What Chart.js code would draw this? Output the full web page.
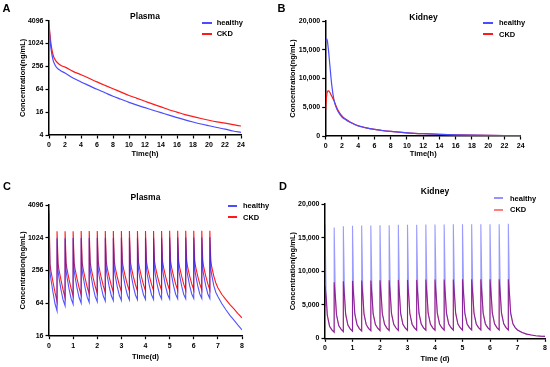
<!DOCTYPE html>
<html><head><meta charset="utf-8">
<script src="https://cdn.jsdelivr.net/npm/chart.js@4.4.1/dist/chart.umd.min.js"></script>
<style>
html,body{margin:0;padding:0;background:#fff;width:550px;height:367px;overflow:hidden;position:relative;font-family:"Liberation Sans",Arial,sans-serif;}
canvas{position:absolute;}
.t{position:absolute;white-space:nowrap;font-weight:bold;color:#000;}
.ln{position:absolute;}
</style></head><body>
<canvas id="cA" width="275" height="183" style="left:0;top:0"></canvas>
<canvas id="cB" width="275" height="183" style="left:275px;top:0"></canvas>
<canvas id="cC" width="275" height="184" style="left:0;top:183px"></canvas>
<canvas id="cD" width="275" height="184" style="left:275px;top:183px"></canvas>
<script>
// ---------- Panel A: single dose, plasma (h) ----------
const aTime    = [0,0.1,0.25,0.5,0.75,1,1.5,2,3,4,5,6,7,8,9,10,11,12,13,14,15,16,17,18,19,20,21,22,23,24];
const aHealthy = [3000,1600,750,380,280,235,195,172,127,100,80,64,52,42,35,29,24.5,21,18,15.5,13.3,11.5,10,8.8,7.8,7,6.3,5.7,5.1,4.7];
const aCKD     = [3500,2000,1000,520,390,330,270,245,190,155,125,100,81,66,54,44,37,31,26,22,18.5,16,13.8,12.2,10.9,9.8,8.9,8.2,7.5,6.9];
const aYTicks  = [4,16,64,256,1024,4096];

// ---------- Panel B: single dose, kidney (h) ----------
const bTime    = [0,0.1,0.2,0.35,0.5,0.75,1,1.25,1.5,2,2.5,3,4,5,6,7,8,10,12,14,16,18,20,22,24];
const bHealthy = [16500,16900,16600,14800,12500,8800,6400,5100,4300,3300,2800,2400,1750,1400,1150,950,800,560,400,290,210,155,115,85,65];
const bCKD     = [4700,6800,7700,7850,7600,6900,6200,5300,4500,3500,2900,2450,1780,1420,1160,960,800,560,400,290,210,155,115,85,65];
const bYTicks  = [0,5000,10000,15000,20000];

// ---------- Panels C & D: multiple dose (d) ----------
const mdTime = [
 0,0,0.0417,0.0833,0.1667,0.25,
 0.3333,0.3333,0.375,0.4167,0.5,0.5833,
 0.6667,0.6667,0.7083,0.75,0.8333,0.9167,
 1,1,1.0417,1.0833,1.1667,1.25,
 1.3333,1.3333,1.375,1.4167,1.5,1.5833,
 1.6667,1.6667,1.7083,1.75,1.8333,1.9167,
 2,2,2.0417,2.0833,2.1667,2.25,
 2.3333,2.3333,2.375,2.4167,2.5,2.5833,
 2.6667,2.6667,2.7083,2.75,2.8333,2.9167,
 3,3,3.0417,3.0833,3.1667,3.25,
 3.3333,3.3333,3.375,3.4167,3.5,3.5833,
 3.6667,3.6667,3.7083,3.75,3.8333,3.9167,
 4,4,4.0417,4.0833,4.1667,4.25,
 4.3333,4.3333,4.375,4.4167,4.5,4.5833,
 4.6667,4.6667,4.7083,4.75,4.8333,4.9167,
 5,5,5.0417,5.0833,5.1667,5.25,
 5.3333,5.3333,5.375,5.4167,5.5,5.5833,
 5.6667,5.6667,5.7083,5.75,5.8333,5.9167,
 6,6,6.0417,6.0833,6.1667,6.25,
 6.3333,6.3333,6.375,6.4167,6.5,6.5833,
 6.6667,6.6667,6.7083,6.75,6.8333,6.9167,
 7,7.1667,7.3333,7.5,7.6667,7.8333,8];

const cHealthy = [
 2900,2900,235,172,100,62,
 46,1000,247,184,111,73,
 57,1000,251,188,115,77,
 61,1005,254,191,118,80,
 64,1005,256,193,120,82,
 66,1010,258,195,122,84,
 68,1010,260,197,124,86,
 70,1015,261,198,125,87,
 71,1015,262,199,126,88,
 72,1020,263,200,127,89,
 73,1020,264,201,128,90,
 74,1020,265,202,129,91,
 75,1025,265,202,129,91,
 75,1025,266,203,130,92,
 76,1025,266,203,130,92,
 76,1030,267,204,131,93,
 77,1030,267,204,131,93,
 77,1030,268,205,132,94,
 78,1035,268,205,132,94,
 78,1035,268,205,132,94,
 78,1040,268,205,132,100,
 84,62,48,38,31,25,20.5];
const cCKD = [
 3300,3300,330,245,155,100,
 68,1350,342,257,167,112,
 80,1350,348,263,173,118,
 86,1350,352,267,177,122,
 90,1355,356,271,181,126,
 94,1355,359,274,184,129,
 97,1355,362,277,187,132,
 100,1360,364,279,189,134,
 102,1360,366,281,191,136,
 104,1360,368,283,193,138,
 106,1360,369,284,194,139,
 107,1365,370,285,195,140,
 108,1365,371,286,196,141,
 109,1365,372,287,197,142,
 110,1365,372,287,197,142,
 110,1370,373,288,198,143,
 111,1370,373,288,198,143,
 111,1370,374,289,199,144,
 112,1370,374,289,199,144,
 112,1370,374,289,199,144,
 112,1370,374,289,199,150,
 122,92,74,60,50,41,34];
const cYTicks = [16,64,256,1024,4096];

const dHealthy = [
 16500,16900,6400,3300,1800,1250,
 900,16500,6500,3400,1900,1350,
 1000,16700,6560,3460,1960,1410,
 1060,16750,6600,3500,2000,1450,
 1100,16800,6630,3530,2030,1480,
 1130,16800,6650,3550,2050,1500,
 1150,16850,6670,3570,2070,1520,
 1170,16850,6680,3580,2080,1530,
 1180,16900,6690,3590,2090,1540,
 1190,16900,6700,3600,2100,1550,
 1200,16900,6710,3610,2110,1560,
 1210,16950,6715,3615,2115,1565,
 1215,16950,6720,3620,2120,1570,
 1220,16950,6725,3625,2125,1575,
 1225,17000,6730,3630,2130,1580,
 1230,17000,6735,3635,2135,1585,
 1235,17000,6740,3640,2140,1590,
 1240,17000,6740,3640,2140,1590,
 1240,17000,6745,3645,2145,1595,
 1245,17000,6745,3645,2145,1595,
 1245,17050,6745,3645,2145,1595,
 1245,850,620,480,390,330,290];
const dCKD = [
 4700,7800,6200,3500,1800,1250,
 900,8350,6300,3600,1900,1350,
 1000,8500,6360,3660,1960,1410,
 1060,8550,6400,3700,2000,1450,
 1100,8600,6430,3730,2030,1480,
 1130,8600,6450,3750,2050,1500,
 1150,8650,6470,3770,2070,1520,
 1170,8650,6480,3780,2080,1530,
 1180,8700,6490,3790,2090,1540,
 1190,8700,6500,3800,2100,1550,
 1200,8700,6510,3810,2110,1560,
 1210,8750,6515,3815,2115,1565,
 1215,8750,6520,3820,2120,1570,
 1220,8750,6525,3825,2125,1575,
 1225,8750,6530,3830,2130,1580,
 1230,8800,6535,3835,2135,1585,
 1235,8800,6540,3840,2140,1590,
 1240,8800,6540,3840,2140,1590,
 1240,8800,6545,3845,2145,1595,
 1245,8800,6545,3845,2145,1595,
 1245,8800,6545,3845,2145,1595,
 1245,850,620,480,390,330,290];
const dYTicks = [0,5000,10000,15000,20000];

const seriesNames = ['healthy','CKD'];

// ---------- helpers ----------
const FONT = '"Liberation Sans", Arial, sans-serif';
const pts = (xs, ys) => xs.map((x,i)=>({x:x, y:ys[i]}));
const fmtComma = v => Number(v).toLocaleString('en-US');

function txt(s, x, y, size, center){
  const d = document.createElement('div');
  d.className = 't'; d.textContent = s;
  d.style.fontSize = size+'px'; d.style.lineHeight = size+'px';
  d.style.top = (y - size/2)+'px'; d.style.left = x+'px';
  if (center) d.style.transform = 'translateX(-50%)';
  document.body.appendChild(d);
}
function legendLine(x1, x2, y, color, h){
  const d = document.createElement('div');
  d.className='ln';
  d.style.left=Math.round(x1)+'px'; d.style.width=Math.round(x2-x1)+'px';
  d.style.top=Math.round(y-h/2)+'px'; d.style.height=h+'px';
  d.style.background=color;
  document.body.appendChild(d);
}

function panel(id, o){
  const W=o.w, H=o.h;
  const tickFont={family:FONT,size:7,weight:'bold'};
  const titleFont={family:FONT,size:7.5,weight:'bold',lineHeight:1.2};
  const yScale = {
    type:o.ylog?'logarithmic':'linear', min:o.ymin, max:o.ymax,
    afterBuildTicks:s=>{ s.ticks=o.yticks.map(v=>({value:v})); },
    ticks:{font:tickFont,color:'#000',padding:2,autoSkip:false,callback:o.yfmt},
    grid:{drawOnChartArea:false,drawTicks:true,tickLength:3.5,tickColor:'#000',tickWidth:1.2},
    border:{display:true,color:'#000',width:1.5},
    title:{display:true,text:'Concentration(ng/mL)',font:titleFont,color:'#000',padding:{top:o.yTitleX-4.5,bottom:0}},
    afterFit:s=>{ s.width=o.left; }
  };
  new Chart(document.getElementById(id),{
    type:'line',
    data:{datasets:o.datasets},
    options:{
      responsive:false, animation:false, devicePixelRatio:1,
      layout:{padding:{left:0,top:o.top,right:W-o.right,bottom:0}},
      plugins:{legend:{display:false},tooltip:{enabled:false},title:{display:false}},
      elements:{point:{radius:0}},
      scales:{
        x:{type:'linear',min:o.xmin,max:o.xmax,
          ticks:{stepSize:o.xstep,font:tickFont,color:'#000',padding:2.5,maxRotation:0,autoSkip:false},
          grid:{drawOnChartArea:false,drawTicks:true,tickLength:3.5,tickColor:'#000',tickWidth:1.2},
          border:{display:true,color:'#000',width:1.5},
          title:{display:true,text:o.xtitle,font:titleFont,color:'#000',padding:{top:0,bottom:H-o.xTitleY-4.5}},
          afterFit:s=>{ s.height=H-o.bottom; }
        },
        y:yScale
      }
    }
  });
}

const blueA='rgb(75,75,255)', redA='rgb(255,25,25)';
const blueC='rgba(40,40,255,0.8)', redC='rgba(255,0,0,0.9)';
const blueD='rgba(30,30,255,0.45)', redD='rgba(215,0,45,0.85)';

function ds(label, data, color, w, smooth){
  return {label:label,data:data,borderColor:color,backgroundColor:color,borderWidth:w,pointRadius:0,fill:false,
    tension:0, cubicInterpolationMode: smooth?'monotone':'default'};
}

panel('cA',{w:275,h:183,left:49,right:241,top:20.7,bottom:135,yTitleX:23,xTitleY:154.3,
  xmin:0,xmax:24,xstep:2,xtitle:'Time(h)',ylog:true,ymin:4,ymax:4096,yticks:aYTicks,yfmt:v=>String(v),
  datasets:[ds(seriesNames[0],pts(aTime,aHealthy),blueA,1.2,true),ds(seriesNames[1],pts(aTime,aCKD),redA,1.2,true)]});

panel('cB',{w:275,h:183,left:50.7,right:245.7,top:21,bottom:136,yTitleX:17.8,xTitleY:154.3,
  xmin:0,xmax:24,xstep:2,xtitle:'Time(h)',ylog:false,ymin:0,ymax:20000,yticks:bYTicks,yfmt:fmtComma,
  datasets:[ds(seriesNames[0],pts(bTime,bHealthy),blueA,1.2,true),ds(seriesNames[1],pts(bTime,bCKD),redA,1.2,true)]});

panel('cC',{w:275,h:184,left:49,right:242,top:22,bottom:152.7,yTitleX:23,xTitleY:174,
  xmin:0,xmax:8,xstep:1,xtitle:'Time(d)',ylog:true,ymin:16,ymax:4096,yticks:cYTicks,yfmt:v=>String(v),
  datasets:[ds(seriesNames[0],pts(mdTime,cHealthy),blueC,1.1,false),ds(seriesNames[1],pts(mdTime,cCKD),redC,1.1,false)]});

panel('cD',{w:275,h:184,left:50,right:270,top:21,bottom:155.3,yTitleX:17.5,xTitleY:176,
  xmin:0,xmax:8,xstep:1,xtitle:'Time (d)',ylog:false,ymin:0,ymax:20000,yticks:dYTicks,yfmt:fmtComma,
  datasets:[ds(seriesNames[0],pts(mdTime,dHealthy),blueD,1.1,false),ds(seriesNames[1],pts(mdTime,dCKD),redD,1.1,false)]});

// panel letters
txt('A',2.5,8,11,false); txt('B',277.5,8,11,false);
txt('C',3,186,11,false); txt('D',279,186,11,false);
// titles
txt('Plasma',145,16.7,8.5,true); txt('Kidney',423.5,17.3,8.5,true);
txt('Plasma',145.5,197.7,8.5,true); txt('Kidney',435,191.7,8.5,true);
// legends
legendLine(201.7,211.7,22.7,blueA,2); txt(seriesNames[0],216.7,22.7,7.5,false);
legendLine(201.7,211.7,34,redA,2);    txt(seriesNames[1],216.7,34,7.5,false);
legendLine(483.3,493.3,22.7,blueA,2); txt(seriesNames[0],499,22.7,7.5,false);
legendLine(483.3,493.3,34.3,redA,2);  txt(seriesNames[1],499,34.3,7.5,false);
legendLine(227.7,236.7,205.7,blueA,2); txt(seriesNames[0],243,205.7,7.5,false);
legendLine(227.7,236.7,217.3,redA,2);  txt(seriesNames[1],243,217.3,7.5,false);
legendLine(494.3,503.3,198.3,'rgba(60,60,255,0.55)',2); txt(seriesNames[0],510,198.3,7.5,false);
legendLine(494.3,503.3,210,'rgba(255,40,40,0.6)',2);    txt(seriesNames[1],510,210,7.5,false);
</script>
</body></html>
